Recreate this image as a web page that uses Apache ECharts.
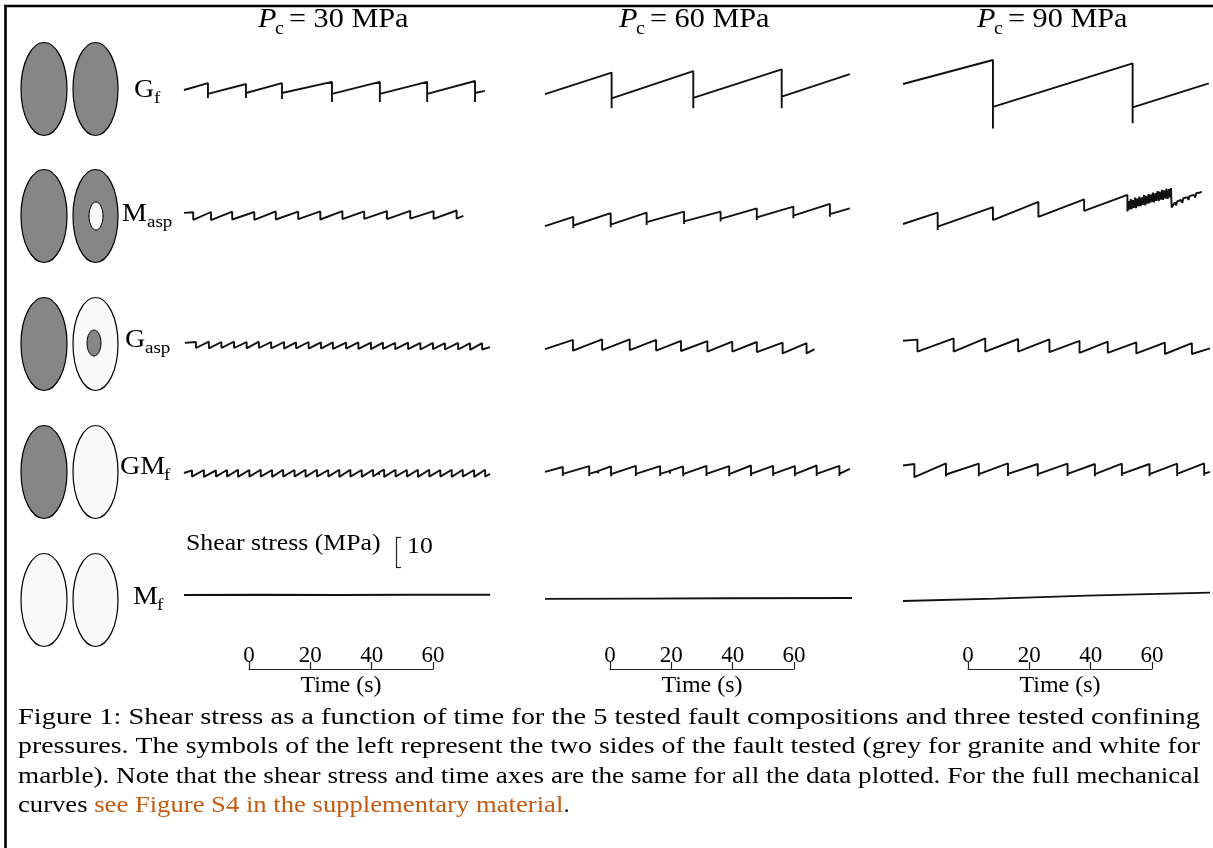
<!DOCTYPE html>
<html>
<head>
<meta charset="utf-8">
<title>Shear stress vs time</title>
<script src="https://cdn.jsdelivr.net/npm/echarts@6/dist/echarts.min.js"></script>
<style>
  html, body { margin: 0; padding: 0; background: #fff; }
  #main { width: 1213px; height: 848px; }
</style>
</head>
<body>
<div id="main"></div>
<script>
// each curve: [time (s), shear stress (MPa, relative to the panel baseline)]
// rows = fault compositions, columns = confining pressure
var pressures = ['30', '60', '90']
var faults = ['Gf', 'Masp', 'Gasp', 'GMf', 'Mf']

var Gf_30 = [[0,20],[7.8,22.3],[7.8,17.3],[7.8,18.7],[20.2,22],[20.2,17.3],[20.2,19],[31.9,22.3],[31.9,17],[31.9,19],
  [48.2,22.7],[48.2,16],[48.2,18.7],[63.8,22.7],[63.8,16],[63.8,18.7],[79.2,22.7],[79.2,16],[79.2,18.7],
  [94.8,23],[94.8,16],[94.8,19],[98,19.7]]
var Masp_30 = [[0,20.7],[3,20.9],[3,18.4],[3,18.8],[8.8,21],[8.8,18.3],[8.8,18.7],[15.7,21.1],[15.7,18.5],[15.7,18.9],
  [22.9,21],[22.9,18.4],[22.9,18.8],[29.9,21.2],[29.9,18.5],[29.9,18.9],[37.2,21.1],[37.2,18.6],[37.2,19],
  [44.4,21.2],[44.4,18.5],[44.4,18.9],[51.6,21.3],[51.6,18.6],[51.6,19],[58.7,21.2],[58.7,18.7],[58.7,19.1],
  [66.1,21.3],[66.1,18.6],[66.1,19],[73.7,21.4],[73.7,18.8],[73.7,19.2],[81.3,21.3],[81.3,18.7],[81.3,19.1],
  [88.8,21.5],[88.8,18.8],[88.8,19.2],[91,19.7]]
var Gasp_30 = [[0.3,20.7],[3.9,21],[3.9,19],[3.9,19.4],[8.1,21.1],[8.1,18.9],[8.1,19.3],[12.2,21],[12.2,19],[12.2,19.4],
  [16.3,21.1],[16.3,19],[16.3,19.3],[20.4,21],[20.4,18.9],[20.4,19.3],[24.4,21.1],[24.4,19],[24.4,19.4],
  [28.4,21],[28.4,18.9],[28.4,19.3],[32.6,21],[32.6,18.8],[32.6,19.2],[36.5,20.9],[36.5,18.9],[36.5,19.3],
  [40.6,21],[40.6,18.8],[40.6,19.2],[44.6,20.9],[44.6,18.8],[44.6,19.2],[48.5,20.9],[48.5,18.7],[48.5,19.1],
  [52.8,20.8],[52.8,18.8],[52.8,19.2],[56.8,20.9],[56.8,18.7],[56.8,19.1],[60.9,20.8],[60.9,18.6],[60.9,19],
  [64.8,20.8],[64.8,18.7],[64.8,19.1],[68.8,20.7],[68.8,18.6],[68.8,19],[73,20.8],[73,18.6],[73,19],
  [77,20.7],[77,18.5],[77,18.9],[81.1,20.7],[81.1,18.6],[81.1,19],[85,20.6],[85,18.5],[85,18.9],
  [89.3,20.7],[89.3,18.5],[89.3,18.9],[93.2,20.6],[93.2,18.4],[93.2,18.8],[97.1,20.6],[97.1,18.5],[97.1,18.9],[99.7,19.3]]
var GMf_30 = [[0,19],[2.6,19.9],[2.6,17.8],[2.6,18.2],[6.5,20],[6.5,17.7],[6.5,18.1],[10.4,19.9],[10.4,17.8],[10.4,18.2],
  [14,20],[14,17.8],[14,18.2],[17.6,20.1],[17.6,17.7],[17.6,18.1],[21.3,20],[21.3,17.8],[21.3,18.2],
  [25,20.1],[25,17.8],[25,18.2],[28.7,20],[28.7,17.7],[28.7,18.1],[32.3,20.1],[32.3,17.8],[32.3,18.2],
  [36,20],[36,17.8],[36,18.2],[39.6,20.1],[39.6,17.7],[39.6,18.1],[43.3,20.1],[43.3,17.8],[43.3,18.2],
  [47,20],[47,17.8],[47,18.2],[50.6,20.1],[50.6,17.7],[50.6,18.1],[54.2,20.1],[54.2,17.8],[54.2,18.2],
  [57.9,20],[57.9,17.7],[57.9,18.1],[61.6,20.1],[61.6,17.8],[61.6,18.2],[63.5,19.2],[63.5,18.4],[63.6,19.3],
  [65.2,20.1],[65.2,17.7],[65.2,18.1],[68.9,20.1],[68.9,17.8],[68.9,18.2],[72.6,20],[72.6,17.8],[72.6,18.2],
  [76.2,20.1],[76.2,17.7],[76.2,18.1],[79.9,20.1],[79.9,17.8],[79.9,18.2],[83.5,20],[83.5,17.8],[83.5,18.2],
  [87.2,20.1],[87.2,17.7],[87.2,18.1],[90.8,20.1],[90.8,17.8],[90.8,18.2],[94.5,20],[94.5,17.7],[94.5,18.1],
  [98.1,20.1],[98.1,17.8],[98.1,18.2],[99.7,18.7]]
var Mf_30 = [[0,20],[25,20.1],[50,20],[75,20.1],[99.7,20.1]]

var Gf_60 = [[0,18.6],[21.7,25.8],[21.7,13.9],[21.7,17.2],[48.3,26.3],[48.3,13.9],[48.3,17.4],
  [77.1,26.9],[77.1,13.9],[77.1,17.8],[99.3,25.3]]
var Masp_60 = [[0,16.3],[9.2,19.4],[9.2,15.6],[9.2,16.5],[21.4,20.6],[21.4,15.9],[21.4,16.8],[33.1,20.8],[33.1,16.7],[33.1,17.6],
  [45.3,21.1],[45.3,17],[45.3,17.9],[57.2,21.1],[57.2,17.8],[57.2,18.7],[69,22.2],[69,18.3],[69,19.2],
  [80.9,22.8],[80.9,18.9],[80.9,19.8],[92.8,23.7],[92.8,19.4],[92.8,20.3],[99.3,22.2]]
var Gasp_60 = [[0,18.6],[9.1,21.7],[9.1,18.1],[9.1,18.7],[18.6,21.9],[18.6,18.3],[18.6,18.9],[27.6,21.9],[27.6,18.3],[27.6,18.9],
  [36.2,21.7],[36.2,18.1],[36.2,18.7],[44.3,21.4],[44.3,18],[44.3,18.6],[52.9,21.3],[52.9,17.8],[52.9,18.4],
  [61,21.1],[61,17.8],[61,18.4],[69,21],[69,17.6],[69,18.2],[77.4,20.8],[77.4,17.2],[77.4,17.8],
  [85.2,20.6],[85.2,17.2],[85.2,17.8],[87.8,18.6]]
var GMf_60 = [[0,19.4],[5.8,21],[5.8,18],[5.8,18.7],[14.4,21.3],[14.4,18],[14.4,18.7],[17.3,19.6],[17.3,18.9],[17.4,19.7],
  [21.5,21.2],[21.5,17.9],[21.5,18.6],[29.6,21.4],[29.6,18],[29.6,18.7],[37.5,21.3],[37.5,18],[37.5,18.7],
  [40.7,19.7],[40.7,18.8],[40.8,19.8],[45,21.2],[45,17.9],[45,18.6],[52.6,21.4],[52.6,18],[52.6,18.7],
  [60,21.3],[60,17.9],[60,18.6],[67.1,21.5],[67.1,18],[67.1,18.7],[74.3,21.4],[74.3,18],[74.3,18.7],
  [81.4,21.3],[81.4,17.9],[81.4,18.6],[88.5,21.5],[88.5,18],[88.5,18.7],[95.9,21.4],[95.9,18],[95.9,18.7],[99.3,20.4]]
var Mf_60 = [[0,18.7],[30,18.8],[60,18.9],[100,19]]

var Gf_90 = [[0,22],[29.3,30],[29.3,7.2],[29.3,14.4],[74.8,28.9],[74.8,8.9],[74.8,14.2],[99.6,22.2]]
var Masp_90 = [[0,17],[11.3,20.8],[11.3,15],[11.3,16.1],[29.3,22.6],[29.3,18.3],[29.3,18.9],[44.1,24.4],[44.1,19.4],[44.1,20],
  [59,25.2],[59,21.4],[59,21.9],[73.1,26.7],[73.1,21.2],[73.5,24.6],[73.8,21.8],[74.2,25.3],[74.5,22],[74.9,25],
  [75.2,22.4],[75.6,25.8],[75.9,22.3],[76.3,25.5],[76.7,22.9],[77,26.1],[77.4,23],[77.8,25.9],[78.1,23.4],[78.5,26.6],
  [78.9,23.2],[79.2,26.4],[79.6,23.8],[80,27],[80.3,23.9],[80.7,26.8],[81.1,24.3],[81.4,27.5],[81.8,24.2],[82.2,27.3],
  [82.5,24.7],[82.9,28],[83.3,24.6],[83.6,27.8],[84,25.1],[84.4,28.4],[84.7,25],[85.1,28.2],[85.5,25.5],[85.8,28.8],
  [86.2,25.4],[86.6,28.6],[86.9,25.9],[87.3,29],[87.5,22.5],[88.5,24.2],[89,23.2],[89.3,24.5],[90.5,25],[91,24.1],
  [91.3,25.6],[92.7,25.9],[93,25],[93.3,26.3],[94.8,26.7],[95.2,25.8],[95.5,27.3],[96.5,27.4],[97.3,27.8]]
var Gasp_90 = [[0,21.4],[4.7,21.8],[4.7,17.8],[4.7,18.3],[16.5,22.2],[16.5,17.8],[16.5,18.3],[26.8,22.2],[26.8,17.8],[26.8,18.3],
  [37.5,22],[37.5,17.8],[37.5,18.3],[47.7,21.9],[47.7,17.6],[47.7,18.1],[57.5,21.4],[57.5,17.4],[57.5,17.9],
  [66.7,21.1],[66.7,17.4],[66.7,17.9],[76,20.9],[76,17.2],[76,17.7],[85.3,20.8],[85.3,17],[85.3,17.5],
  [94.1,20.6],[94.1,17],[94.1,17.5],[100,18.9]]
var GMf_90 = [[0,21.5],[3.7,22],[3.7,17.6],[3.7,18.2],[14,22.2],[14,17.8],[14,18.5],[24.7,22.1],[24.7,17.9],[24.7,18.6],
  [34.2,22.2],[34.2,18],[34.2,18.7],[43.9,22],[43.9,17.9],[43.9,18.6],[53.6,22.1],[53.6,18],[53.6,18.7],
  [62.5,22],[62.5,17.9],[62.5,18.6],[71.3,22.1],[71.3,18],[71.3,18.7],[80.3,22],[80.3,17.9],[80.3,18.6],
  [89.3,22.1],[89.3,18],[89.3,18.7],[98.1,22.2],[98.1,18.1],[98.1,18.8],[100,19.4]]
var Mf_90 = [[0,18],[30,18.8],[60,19.8],[100,20.8]]

var curves = [
  [Gf_30, Gf_60, Gf_90],
  [Masp_30, Masp_60, Masp_90],
  [Gasp_30, Gasp_60, Gasp_90],
  [GMf_30, GMf_60, GMf_90],
  [Mf_30, Mf_60, Mf_90]
]
// time scale bar ticks and shear stress scale bar
var timeTicks = [0, 20, 40, 60]
var stressBar = 10

// layout (px)
var colLeft = [184, 545, 903]
var rowMid = [90, 215, 345, 470, 595]
var panelW = 307, panelH = 120
var serif = 'Liberation Serif'
var stretch = 1.12

var grids = [], xAxes = [], yAxes = [], series = []
curves.forEach(function (row, r) {
  row.forEach(function (data, c) {
    var i = grids.length
    grids.push({ left: colLeft[c], top: rowMid[r] - panelH / 2, width: panelW, height: panelH })
    xAxes.push({ gridIndex: i, type: 'value', min: 0, max: 100, show: false })
    yAxes.push({ gridIndex: i, type: 'value', min: 0, max: 40, show: false })
    series.push({
      name: faults[r] + ' ' + pressures[c] + ' MPa',
      type: 'line', xAxisIndex: i, yAxisIndex: i, data: data,
      showSymbol: false, silent: true, clip: false,
      lineStyle: { color: '#111', width: 1.9 }
    })
  })
})

// time scale bars under each column
colLeft.forEach(function (left) {
  var i = grids.length
  grids.push({ left: left + 65, top: 600, width: 184, height: 69 })
  xAxes.push({
    gridIndex: i, type: 'value', min: timeTicks[0], max: timeTicks[timeTicks.length - 1], interval: 20,
    axisLine: { lineStyle: { color: '#222', width: 1.2 } },
    axisTick: { inside: true, length: 7, lineStyle: { color: '#222', width: 1.2 } },
    axisLabel: { inside: true, margin: 2, color: '#000', fontFamily: serif, fontSize: 23 },
    splitLine: { show: false },
    name: 'Time (s)', nameLocation: 'middle', nameGap: 5,
    nameTextStyle: { color: '#000', fontFamily: serif, fontSize: 24, verticalAlign: 'top' }
  })
  yAxes.push({ gridIndex: i, type: 'value', show: false })
})

// shear stress scale bar (10 MPa at the panel scale of 3 px / MPa)
var sb = grids.length
grids.push({ left: 396, top: 537, width: 10, height: stressBar * panelH / 40 })
xAxes.push({ gridIndex: sb, type: 'value', show: false })
yAxes.push({
  gridIndex: sb, type: 'value', min: 0, max: stressBar, interval: stressBar,
  axisLine: { show: true, lineStyle: { color: '#222', width: 1.2 } },
  axisTick: { show: true, inside: true, length: 5, lineStyle: { color: '#222', width: 1.2 } },
  axisLabel: { show: false }, splitLine: { show: false }
})

// graphic elements: border, fault symbols, labels, titles, caption
var g = []
g.push({ type: 'line', shape: { x1: 4, y1: 6, x2: 1213, y2: 6 }, style: { stroke: '#000', lineWidth: 2.6 } })
g.push({ type: 'line', shape: { x1: 5.5, y1: 5, x2: 5.5, y2: 848 }, style: { stroke: '#000', lineWidth: 2.6 } })

var grey = '#868686', white = '#fafafa'
var sides = [[grey, grey], [grey, grey], [grey, white], [grey, white], [white, white]]
var symY = [89, 216, 344, 472, 600]
sides.forEach(function (s, r) {
  g.push({ type: 'ellipse', shape: { cx: 44, cy: symY[r], rx: 23, ry: 46.5 }, style: { fill: s[0], stroke: '#000', lineWidth: 1.2 } })
  g.push({ type: 'ellipse', shape: { cx: 95.5, cy: symY[r], rx: 22.5, ry: 46.5 }, style: { fill: s[1], stroke: '#000', lineWidth: 1.2 } })
})
g.push({ type: 'ellipse', shape: { cx: 96, cy: 216, rx: 7, ry: 14 }, style: { fill: white, stroke: '#000', lineWidth: 1 } })
g.push({ type: 'ellipse', shape: { cx: 94, cy: 343, rx: 7, ry: 13 }, style: { fill: grey, stroke: '#000', lineWidth: 1 } })

function txt(s, x, y, size, extra) {
  var st = { text: s, fontFamily: serif, fontSize: size, fill: '#000', textAlign: 'left', textVerticalAlign: 'middle' }
  if (extra) for (var k in extra) st[k] = extra[k]
  return { type: 'text', x: x, y: y, scaleX: stretch, style: st }
}
// fault labels with subscripts
var labels = [['G', 'f', 134, 90, 154], ['M', 'asp', 122, 214, 147], ['G', 'asp', 125, 340, 145], ['GM', 'f', 120, 467, 164], ['M', 'f', 133, 597, 157]]
labels.forEach(function (l) {
  g.push(txt(l[0], l[2], l[3], 25))
  g.push(txt(l[1], l[4], l[3] + 9, 17))
})
// column titles
pressures.forEach(function (p, c) {
  var x0 = 258 + (colLeft[c] - colLeft[0])
  g.push(txt('P', x0, 20, 27, { fontStyle: 'italic' }))
  g.push(txt('c', x0 + 17, 29, 18))
  g.push(txt('= ' + p + ' MPa', x0 + 31, 20, 27))
})
// stress scale bar text
g.push(txt('Shear stress (MPa)', 186, 544, 23))
g.push(txt(String(stressBar), 407, 547, 23))

// caption, justified by stretching each line to the text column width
var cap = [
  'Figure 1: Shear stress as a function of time for the 5 tested fault compositions and three tested confining',
  'pressures. The symbols of the left represent the two sides of the fault tested (grey for granite and white for',
  'marble). Note that the shear stress and time axes are the same for all the data plotted. For the full mechanical'
]
var capY = [718, 747, 777, 806]
var capSize = 24
var ctx = document.createElement('canvas').getContext('2d')
ctx.font = capSize + 'px "' + serif + '"'
cap.forEach(function (line, k) {
  var t = txt(line, 18, capY[k], capSize)
  t.scaleX = 1182 / ctx.measureText(line).width
  g.push(t)
})
var last = 'curves see Figure S4 in the supplementary material.'
g.push({
  type: 'text', x: 18, y: capY[3], scaleX: 552 / ctx.measureText(last).width,
  style: {
    text: '{a|curves }{b|see Figure S4 in the supplementary material}{a|.}',
    fontFamily: serif, fontSize: capSize, textVerticalAlign: 'middle',
    rich: {
      a: { fontFamily: serif, fontSize: capSize, fill: '#000' },
      b: { fontFamily: serif, fontSize: capSize, fill: '#c55a11' }
    }
  }
})

var chart = echarts.init(document.getElementById('main'), null, { renderer: 'canvas' })
chart.setOption({
  backgroundColor: '#fff',
  animation: false,
  grid: grids,
  xAxis: xAxes,
  yAxis: yAxes,
  series: series,
  graphic: { elements: g }
})
</script>
</body>
</html>
